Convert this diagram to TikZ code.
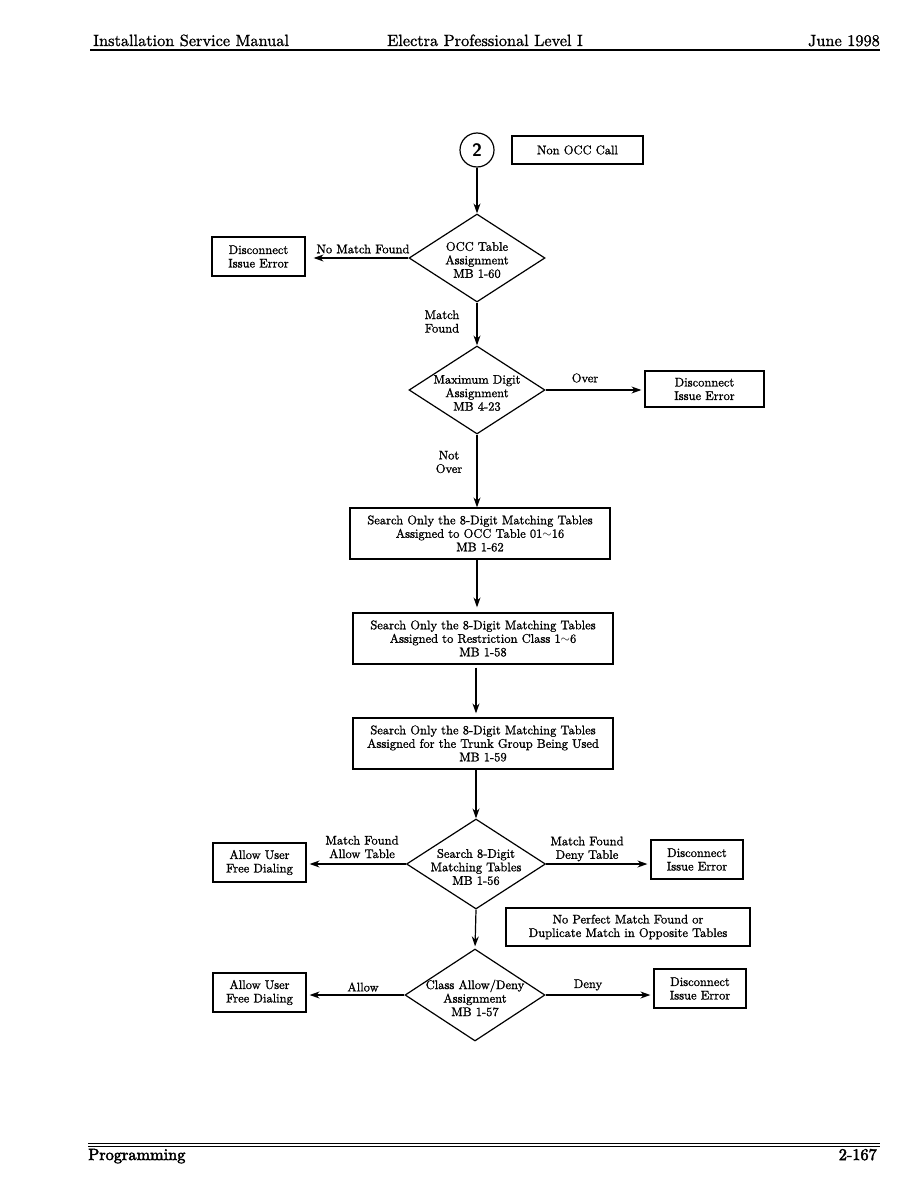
\documentclass[tikz,border=0pt]{standalone}
\usepackage{fontspec}
\setmainfont{lmroman10-regular}[Extension=.otf, BoldFont=lmroman10-bold, RawFeature={embolden=1.2}]
\newfontfamily\ftfont{lmroman10-regular}[Extension=.otf, RawFeature={embolden=3}]
\usetikzlibrary{shapes.geometric,arrows.meta}
\newcommand{\bx}{\fontsize{12.5}{13.5}\selectfont}
\newcommand{\hd}{\fontsize{16.3}{18}\selectfont}
\begin{document}
\begin{tikzpicture}[x=1pt,y=-1pt,
  box/.style={draw, line width=1.2pt, inner sep=0pt, align=center, font=\bx},
  dia/.style={draw, diamond, line width=1.2pt, inner sep=0pt},
  dtext/.style={align=center, font=\bx, inner sep=0pt},
  lbl/.style={align=center, font=\bx, inner sep=0pt},
  arr/.style={-{Stealth[length=10pt,width=7pt]}, line width=1.2pt},
  hdr/.style={font=\hd, inner sep=0pt}]
\useasboundingbox (0,0) rectangle (918,1188);
% header
\node[hdr, anchor=base west] (h1) at (93,46) {Installation Service Manual};
\node[hdr, anchor=base west] (h2) at (387,46) {Electra Professional Level I};
\node[hdr, anchor=base east] (h3) at (880,46) {June 1998};
\draw[line width=1.8pt] (90,50) -- (880,50);
% footer
\draw[line width=0.7pt] (88,1143) -- (880,1143);
\draw[line width=1.8pt] (88,1146.5) -- (880,1146.5);
\node[hdr, anchor=base west, font=\hd\ftfont] (f1) at (88,1160) {Programming};
\node[hdr, anchor=base east, font=\hd\ftfont] (f2) at (877,1160) {2-167};
% start
\node[draw, circle, line width=1.2pt, minimum size=34pt, inner sep=0pt, font=\fontsize{18}{18}\selectfont\sffamily\bfseries] (c2) at (477,150) {2};
\node[box, minimum width=131pt, minimum height=28pt] (nonocc) at (577.5,150) {Non OCC Call};
% diamond 1
\node[dia, minimum width=136pt, minimum height=88pt] (d1) at (477,258) {};
\node[dtext] (d1t) at (477,260) {OCC Table\\Assignment\\MB 1-60};
\node[box, minimum width=93pt, minimum height=39pt] (dis1) at (258.5,256.5) {Disconnect\\Issue Error};
% diamond 2
\node[dia, minimum width=136pt, minimum height=88pt] (d2) at (477,390) {};
\node[dtext] (d2t) at (477,393) {Maximum Digit\\Assignment\\MB 4-23};
\node[box, minimum width=119pt, minimum height=36pt] (dis2) at (704.5,389) {Disconnect\\Issue Error};
% search boxes
\node[box, minimum width=260pt, minimum height=51pt] (s1) at (480,533.5) {Search Only the 8-Digit Matching Tables\\Assigned to OCC Table 01$\sim$16\\MB 1-62};
\node[box, minimum width=260pt, minimum height=51pt] (s2) at (483,638.5) {Search Only the 8-Digit Matching Tables\\Assigned to Restriction Class 1$\sim$6\\MB 1-58};
\node[box, minimum width=260pt, minimum height=51pt] (s3) at (483,743.5) {Search Only the 8-Digit Matching Tables\\Assigned for the Trunk Group Being Used\\MB 1-59};
% diamond 3
\node[dia, minimum width=139pt, minimum height=90pt] (d3) at (476,864) {};
\node[dtext] (d3t) at (476,867) {Search 8-Digit\\Matching Tables\\MB 1-56};
\node[box, minimum width=93pt, minimum height=39pt] (allow1) at (259.5,862.5) {Allow User\\Free Dialing};
\node[box, minimum width=92pt, minimum height=39pt] (dis3) at (697,859.5) {Disconnect\\Issue Error};
\node[box, minimum width=244pt, minimum height=38pt] (noperf) at (628,927) {No Perfect Match Found or\\Duplicate Match in Opposite Tables};
% diamond 4
\node[dia, minimum width=140pt, minimum height=92pt] (d4) at (475,995) {};
\node[dtext] (d4t) at (475,998) {Class Allow/Deny\\Assignment\\MB 1-57};
\node[box, minimum width=93pt, minimum height=39pt] (allow2) at (259.5,992.5) {Allow User\\Free Dialing};
\node[box, minimum width=92pt, minimum height=39pt] (dis4) at (700,988.5) {Disconnect\\Issue Error};
% labels
\node[lbl] (l1) at (363,249) {No Match Found};
\node[lbl] (l2) at (442,321.5) {Match\\Found};
\node[lbl] (l3) at (585,378) {Over};
\node[lbl] (l4) at (449,462) {Not\\Over};
\node[lbl] (l5) at (362,847) {Match Found\\Allow Table};
\node[lbl] (l6) at (587,849) {Match Found\\Deny Table};
\node[lbl] (l7) at (363,987) {Allow};
\node[lbl] (l8) at (588,985) {Deny};
% connectors
\draw[arr] (c2.south) -- (d1.north);
\draw[arr, shorten >=8pt] (d1.west) -- (d1.west -| dis1.east);
\draw[arr] (d1.south) -- (d2.north);
\draw[arr, shorten >=3pt] (d2.east) -- (d2.east -| dis2.west);
\draw[arr] (d2.south) -- (d2.south |- s1.north);
\draw[arr, shorten >=5pt] (d2.south |- s1.south) -- (d2.south |- s2.north);
\draw[arr, shorten <=3pt, shorten >=4pt] (d3.north |- s2.south) -- (d3.north |- s3.north);
\draw[arr] (d3.north |- s3.south) -- (d3.north);
\draw[arr, shorten >=3pt] (d3.west) -- (d3.west -| allow1.east);
\draw[arr, shorten >=3pt] (d3.east) -- (d3.east -| dis3.west);
\draw[arr, shorten >=2pt] (d3.south) -- (d4.north);
\draw[arr, shorten >=3pt] (d4.west) -- (d4.west -| allow2.east);
\draw[arr, shorten >=3pt] (d4.east) -- (d4.east -| dis4.west);
\end{tikzpicture}
\end{document}
